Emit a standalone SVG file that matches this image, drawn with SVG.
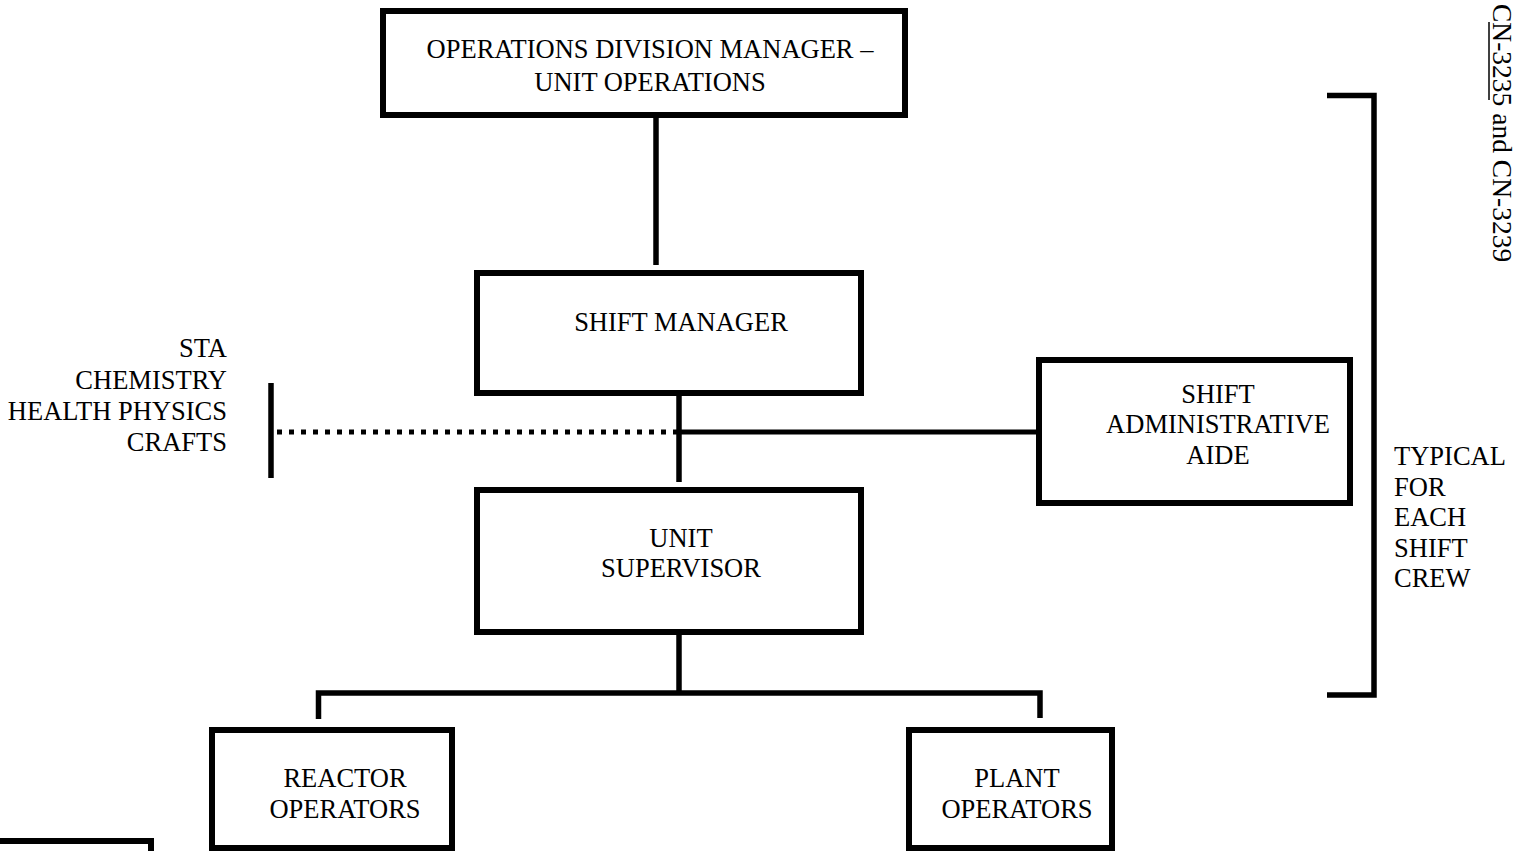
<svg xmlns="http://www.w3.org/2000/svg" width="1515" height="851" viewBox="0 0 1515 851">
<style>
  .box { fill: #fff; stroke: #000; stroke-width: 6; }
  .ln { fill: none; stroke: #000; stroke-width: 5.5; stroke-linejoin: miter; stroke-linecap: butt; }
  .dot { fill: none; stroke: #000; stroke-width: 5; stroke-dasharray: 5 7; }
  text { font-family: "Liberation Serif", "Times New Roman", serif; font-size: 26.5px; fill: #000; }
  .c { text-anchor: middle; }
  .r { text-anchor: end; }
</style>
<rect width="1515" height="851" fill="#fff"/>

<g id="connectors">
  <line class="ln" x1="656" y1="115" x2="656" y2="265"/>
  <line class="ln" x1="679" y1="385" x2="679" y2="482"/>
  <line class="dot" x1="277" y1="432" x2="678" y2="432"/>
  <line class="ln" x1="679" y1="432" x2="1039" y2="432" style="stroke-width:5"/>
  <line class="ln" x1="271" y1="383" x2="271" y2="478"/>
  <line class="ln" x1="679" y1="625" x2="679" y2="693"/>
  <path class="ln" d="M318.5,719 V693 H1040 V718"/>
</g>

<g id="node-opsmgr">
  <rect class="box" x="383" y="11" width="522" height="104"/>
  <text class="c" x="650" y="58">OPERATIONS DIVISION MANAGER –</text>
  <text class="c" x="650" y="91">UNIT OPERATIONS</text>
</g>

<g id="node-shiftmgr">
  <rect class="box" x="477" y="273" width="384" height="120"/>
  <text class="c" x="681" y="331">SHIFT MANAGER</text>
</g>

<g id="node-unitsup">
  <rect class="box" x="477" y="490" width="384" height="142"/>
  <text class="c" x="681" y="547">UNIT</text>
  <text class="c" x="681" y="577">SUPERVISOR</text>
</g>

<g id="node-admin">
  <rect class="box" x="1039" y="360" width="311" height="143"/>
  <text class="c" x="1218" y="403">SHIFT</text>
  <text class="c" x="1218" y="433">ADMINISTRATIVE</text>
  <text class="c" x="1218" y="464">AIDE</text>
</g>

<g id="node-reactor">
  <rect class="box" x="212" y="730" width="240" height="118"/>
  <text class="c" x="345" y="787">REACTOR</text>
  <text class="c" x="345" y="818">OPERATORS</text>
</g>

<g id="node-plant">
  <rect class="box" x="909" y="730" width="203" height="118"/>
  <text class="c" x="1017" y="787">PLANT</text>
  <text class="c" x="1017" y="818">OPERATORS</text>
</g>

<g id="node-support">
  <text class="r" x="227" y="357">STA</text>
  <text class="r" x="227" y="389">CHEMISTRY</text>
  <text class="r" x="227" y="420">HEALTH PHYSICS</text>
  <text class="r" x="227" y="451">CRAFTS</text>
</g>

<g id="bracket">
  <path class="ln" d="M1327,95.5 H1374 V695 H1327"/>
  <text x="1394" y="465">TYPICAL</text>
  <text x="1394" y="496">FOR</text>
  <text x="1394" y="526">EACH</text>
  <text x="1394" y="557">SHIFT</text>
  <text x="1394" y="587">CREW</text>
</g>

<g id="ref">
  <text x="4" y="-1493" transform="rotate(90)" style="font-size:27.5px">CN-3235 and CN-3239</text>
  <line x1="1489" y1="22" x2="1489" y2="100" stroke="#000" stroke-width="1.5"/>
</g>

<path class="ln" d="M0,841 H151 V851" style="stroke-width:6"/>
</svg>
